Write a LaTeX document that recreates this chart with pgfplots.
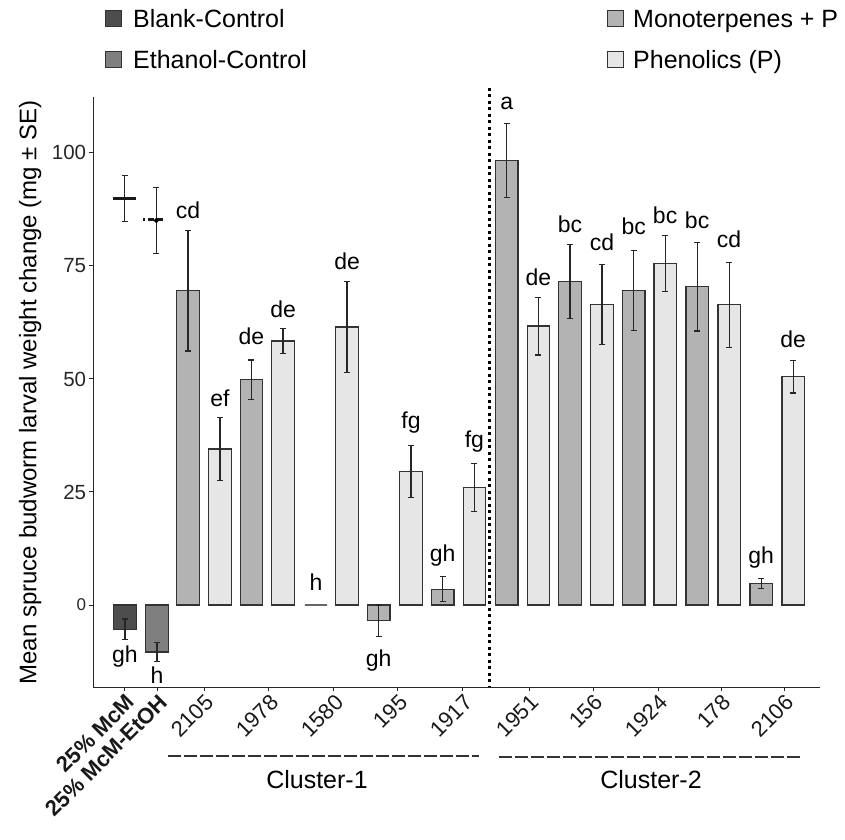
\documentclass[border=0pt]{standalone}
\usepackage{fontspec}
\setmainfont{Liberation Sans}
\usepackage{pgfplots}
\pgfplotsset{compat=1.18}
\usepackage{pgfplotstable}

\definecolor{cblank}{HTML}{4D4D4D}
\definecolor{ceth}{HTML}{7F7F7F}
\definecolor{cmono}{HTML}{B3B3B3}
\definecolor{cphen}{HTML}{E6E6E6}
\definecolor{cline}{HTML}{333333}

\pgfplotstableread{
x y e
2.50 69.5 13.3
4.48 49.8 4.4
8.46 -3.5 3.5
10.46 3.5 2.8
12.46 98.3 8.2
14.44 71.5 8.2
16.43 69.6 8.9
18.41 70.4 9.8
20.41 4.8 1.1
}\mono

\pgfplotstableread{
x y e
3.50 34.5 6.9
5.47 58.4 2.8
7.47 61.5 10.0
9.47 29.5 5.8
11.45 26.0 5.3
13.45 61.7 6.4
15.44 66.5 8.8
17.41 75.5 6.2
19.41 66.4 9.4
21.41 50.5 3.6
}\phen

\pgfplotstableread{
x y lab
0.53 -11.4 gh
1.53 -15.6 h
2.50 87.4 cd
3.50 45.8 ef
4.48 59.5 de
5.47 65.4 de
6.50 5.0 h
7.47 76.0 de
8.46 -12.3 gh
9.47 40.4 fg
10.46 11.0 gh
11.45 36.2 fg
12.46 111.0 a
13.45 72.5 de
14.44 84.3 bc
15.44 80.2 cd
16.43 83.7 bc
17.41 86.3 bc
18.41 85.0 bc
19.41 80.9 cd
20.41 10.5 gh
21.41 58.8 de
}\labs

\pgfplotsset{
  myerr/.style={
    error bars/.cd, y dir=both, y explicit,
    error bar style={line width=1.2pt, draw=black!85, solid},
    error mark options={rotate=90, mark size=3pt, line width=1.2pt, draw=black!85, solid}
  }
}

\begin{document}
\begin{tikzpicture}
\useasboundingbox (0,0) rectangle (845pt,839pt);
\begin{axis}[
  at={(93.3pt,151.7pt)}, anchor=south west,
  scale only axis, width=726.7pt, height=590pt,
  xmin=-0.46, xmax=22.25, ymin=-18.2, ymax=112.3,
  axis lines=left,
  axis line style={-, line width=1.3pt, draw=black!85},
  clip=false,
  xtick={0.53,1.56,3,5.03,7.06,9.06,11.09,13.16,15.16,17.19,19.16,21.13},
  xticklabels={{\bfseries 25\% McM},{\bfseries 25\% McM-EtOH},2105,1978,1580,195,1917,1951,156,1924,178,2106},
  xticklabel style={rotate=45, anchor=north east, font=\fontsize{22}{22}\selectfont, inner sep=1pt, text=black!90},
  ytick={0,25,50,75,100},
  yticklabels={{\fontsize{17}{17}\selectfont 0},25,50,75,100},
  yticklabel style={font=\fontsize{20.5}{20.5}\selectfont, text=black!85, inner sep=3pt},
  tick align=outside, major tick length=4pt,
  tick style={line width=1pt, black!85},
  ylabel={Mean spruce budworm larval weight change (mg ± SE)},
  ylabel style={font=\fontsize{24}{24}\selectfont, at={(axis description cs:-0.0867,0.5)}, anchor=center, text=black},
]
% controls: negative bars
\addplot[ybar, bar width=0.7, bar shift=0pt, fill=cblank, draw=cline, line width=1.2pt, myerr]
  coordinates {(0.53,-5.4) +- (0,2.3)};
\addplot[ybar, bar width=0.7, bar shift=0pt, fill=ceth, draw=cline, line width=1.2pt, myerr]
  coordinates {(1.53,-10.4) +- (0,2.1)};
% control means (cross and dashed)
\addplot[only marks, mark=-, mark size=11.8pt, mark options={line width=3pt, draw=black!90}, myerr]
  coordinates {(0.52,89.9) +- (0,5.1)};
\addplot[draw=black!90, line width=3pt, dash pattern=on 2.3pt off 2.7pt on 6.5pt off 2.2pt on 6.5pt off 30pt]
  coordinates {(1.09,85.2) (1.78,85.2)};
\addplot[only marks, mark=none, myerr]
  coordinates {(1.51,85.05) +- (0,7.35)};
% treatments
\addplot[ybar, bar width=0.7, bar shift=0pt, fill=cmono, draw=cline, line width=1.2pt, myerr]
  table[x=x, y=y, y error=e] {\mono};
\addplot[ybar, bar width=0.7, bar shift=0pt, fill=cmono, draw=black!60, line width=1.2pt]
  coordinates {(6.50,0)};
\addplot[ybar, bar width=0.7, bar shift=0pt, fill=cphen, draw=cline, line width=1.2pt, myerr]
  table[x=x, y=y, y error=e] {\phen};
% letters
\addplot[only marks, mark=none, nodes near coords, point meta=explicit symbolic,
  every node near coord/.append style={anchor=center, font=\fontsize{23}{23}\selectfont, inner sep=0pt, text=black}]
  table[x=x, y=y, meta=lab] {\labs};
% separator
\draw[line width=2.7pt, dash pattern=on 3pt off 3.5pt, black] (axis cs:11.92,114.4) -- (axis cs:11.92,-18.2);
\end{axis}
% legend
\draw[fill=cblank, draw=cline, line width=1pt] (105pt,812pt) rectangle (121pt,828pt);
\draw[fill=ceth, draw=cline, line width=1pt] (105pt,771pt) rectangle (121pt,787pt);
\draw[fill=cmono, draw=cline, line width=1pt] (607pt,812pt) rectangle (623pt,828pt);
\draw[fill=cphen, draw=cline, line width=1pt] (607pt,771pt) rectangle (623pt,787pt);
\begin{scope}[every node/.style={anchor=base west, inner sep=0pt, font=\fontsize{25}{25}\selectfont}]
\node at (133pt,811.5pt) {Blank-Control};
\node at (133pt,770.5pt) {Ethanol-Control};
\node at (633pt,811.5pt) {Monoterpenes + P};
\node at (633pt,770.5pt) {Phenolics (P)};
\end{scope}
% cluster brackets
\draw[line width=1.5pt, black!80, dash pattern=on 13pt off 3pt] (168pt,83pt) -- (479pt,83pt);
\draw[line width=1.5pt, black!80, dash pattern=on 13pt off 3pt] (499pt,82pt) -- (802pt,82pt);
\node[font=\fontsize{25}{25}\selectfont, inner sep=0pt] at (317pt,59pt) {Cluster-1};
\node[font=\fontsize{25}{25}\selectfont, inner sep=0pt] at (651pt,59pt) {Cluster-2};
\end{tikzpicture}
\end{document}
